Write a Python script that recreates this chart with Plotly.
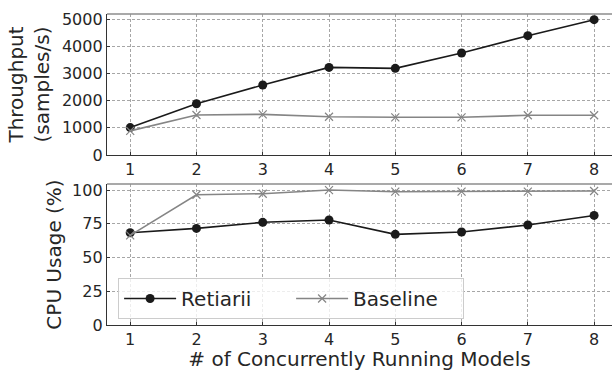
import plotly.graph_objects as go
from plotly.subplots import make_subplots

models = [1, 2, 3, 4, 5, 6, 7, 8]
retiarii_throughput = [1010, 1890, 2580, 3230, 3195, 3760, 4400, 4990]
baseline_throughput = [890, 1475, 1500, 1410, 1390, 1390, 1465, 1465]
retiarii_cpu = [68.4, 71.6, 76.1, 77.8, 67.2, 68.9, 74.1, 81.2]
baseline_cpu = [66.4, 96.5, 97.3, 100.0, 98.8, 98.8, 98.8, 99.3]
throughput_ticks = [0, 1000, 2000, 3000, 4000, 5000]
cpu_ticks = [0, 25, 50, 75, 100]

FONT = "DejaVu Sans"
TXT = "#262626"
RET_COLOR = "#1a1a1a"
BASE_COLOR = "#858585"

fig = make_subplots(rows=2, cols=1, vertical_spacing=0.0932)

fig.add_trace(go.Scatter(x=models, y=retiarii_throughput, mode="lines+markers", name="Retiarii",
                         line=dict(color=RET_COLOR, width=1.6),
                         marker=dict(symbol="circle", size=9, color=RET_COLOR),
                         showlegend=False), row=1, col=1)
fig.add_trace(go.Scatter(x=models, y=baseline_throughput, mode="lines+markers", name="Baseline",
                         line=dict(color=BASE_COLOR, width=1.6),
                         marker=dict(symbol="x-thin", size=8, line=dict(color=BASE_COLOR, width=1.2)),
                         showlegend=False), row=1, col=1)
fig.add_trace(go.Scatter(x=models, y=retiarii_cpu, mode="lines+markers", name="Retiarii",
                         line=dict(color=RET_COLOR, width=1.6),
                         marker=dict(symbol="circle", size=9, color=RET_COLOR)), row=2, col=1)
fig.add_trace(go.Scatter(x=models, y=baseline_cpu, mode="lines+markers", name="Baseline",
                         line=dict(color=BASE_COLOR, width=1.6),
                         marker=dict(symbol="x-thin", size=8, line=dict(color=BASE_COLOR, width=1.2))), row=2, col=1)

axis_common = dict(showgrid=True, gridcolor="#a6a6a6", griddash="3px,2px", gridwidth=1,
                   showline=True, linecolor="#333333", linewidth=1.3,
                   ticks="inside", ticklen=3, tickcolor="#333333", automargin=False,
                   tickfont=dict(family=FONT, size=16, color=TXT), zeroline=False)

for r in (1, 2):
    fig.update_xaxes(range=[0.65, 8.27], tickvals=models, **axis_common, row=r, col=1)

fig.update_xaxes(title=dict(text="# of Concurrently Running Models",
                            font=dict(family=FONT, size=20, color=TXT), standoff=2), row=2, col=1)

fig.update_yaxes(range=[0, 5200], tickvals=throughput_ticks, **axis_common,
                 title=dict(text="Throughput<br>(samples/s)", font=dict(family=FONT, size=20, color=TXT),
                            standoff=6), row=1, col=1)
fig.update_yaxes(range=[0, 104.5], tickvals=cpu_ticks, **axis_common,
                 title=dict(text="CPU Usage (%)", font=dict(family=FONT, size=20, color=TXT),
                            standoff=5), row=2, col=1)

for yr in ("y domain", "y2 domain"):
    xr = "x domain" if yr == "y domain" else "x2 domain"
    fig.add_shape(type="line", xref=xr, yref=yr, x0=0, x1=1, y0=1, y1=1,
                  line=dict(color="#8c8c8c", width=1.3))

fig.update_layout(
    width=612, height=371,
    margin=dict(l=107, r=0, t=14, b=46),
    plot_bgcolor="white", paper_bgcolor="white",
    font=dict(family=FONT, color=TXT),
    legend=dict(orientation="h", x=0.022, y=0.151, xanchor="left", yanchor="top",
                bgcolor="rgba(255,255,255,0.8)", bordercolor="#cccccc", borderwidth=1,
                font=dict(family=FONT, size=20, color=TXT), itemwidth=52,
                entrywidth=105, tracegroupgap=0),
)

fig.write_html("out.html", config={"displayModeBar": False},
               post_script="document.body.style.margin='0';document.body.style.padding='0';")
